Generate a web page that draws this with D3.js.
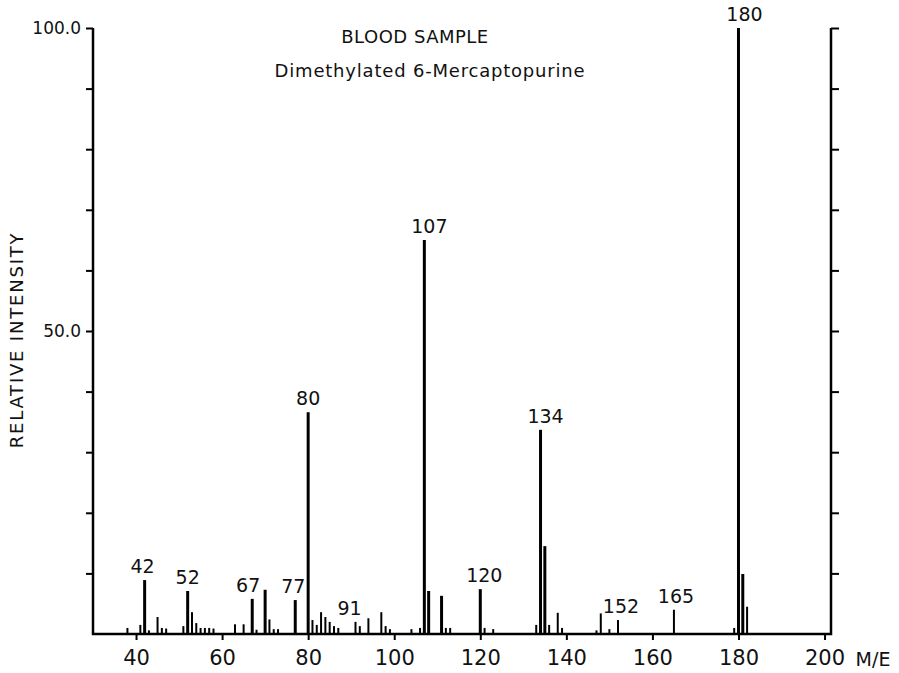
<!DOCTYPE html>
<html>
<head>
<meta charset="utf-8">
<script src="https://cdn.jsdelivr.net/npm/d3@7"></script>
<style>
  html, body { margin: 0; padding: 0; background: #fff; }
  svg { display: block; }
  text { font-family: "DejaVu Sans", sans-serif; fill: #111; }
</style>
</head>
<body>
<svg id="chart"></svg>
<script>
// mass spectrum
const massValues = [
  38, 41, 42, 43, 45, 46, 47, 51, 52, 53, 54, 55, 56, 57, 58,
  63, 65, 67, 68, 70, 71, 72, 73, 77, 80, 81, 82, 83, 84, 85, 86, 87,
  91, 92, 94, 97, 98, 99, 104, 106, 107, 108, 111, 112, 113,
  120, 121, 123, 133, 134, 135, 136, 138, 139,
  147, 148, 150, 152, 165, 179, 180, 181, 182,
];
const intensityValues = [
  1.0, 1.5, 8.9, 0.6, 2.8, 1.0, 0.9, 1.3, 7.1, 3.6, 1.8, 1.0, 1.0, 1.0, 0.9,
  1.6, 1.6, 5.8, 0.7, 7.3, 2.4, 0.8, 0.8, 5.6, 36.6, 2.3, 1.5, 3.6, 2.8, 2.0, 1.3, 1.0,
  2.0, 1.3, 2.6, 3.6, 1.3, 0.8, 0.8, 1.0, 65.0, 7.1, 6.3, 1.0, 1.0,
  7.4, 1.0, 0.8, 1.5, 33.7, 14.5, 1.5, 3.5, 1.0,
  0.6, 3.4, 0.8, 2.3, 4.0, 1.0, 100.0, 9.9, 4.5,
];
const labeledPeaks = [42, 52, 67, 77, 80, 91, 107, 120, 134, 152, 165, 180];
const xTickValues = [40, 60, 80, 100, 120, 140, 160, 180, 200];
const yTickValues = [10, 20, 30, 40, 50, 60, 70, 80, 90, 100];
const yTickLabels = { 50: "50.0", 100: "100.0" };
const title = "BLOOD SAMPLE";
const subtitle = "Dimethylated 6-Mercaptopurine";
const xLabel = "M/E";
const yLabel = "RELATIVE INTENSITY";

// small sideways nudges for peak labels (px)
const labelNudge = { 42: -2, 67: -4, 77: -2, 91: -6, 107: 5, 120: 4, 134: 5, 152: 3, 165: 2, 180: 6 };

const width = 899;
const height = 673;

const svg = d3.select("#chart").attr("width", width).attr("height", height);

const x = d3.scaleLinear().domain([30, 201.5]).range([93, 831]);
const y = d3.scaleLinear().domain([0, 100]).range([634, 28]);

const peaks = massValues.map((m, i) => ({ m, v: intensityValues[i] }));

// peaks
svg
  .selectAll(".peak")
  .data(peaks)
  .join("line")
  .attr("class", "peak")
  .attr("x1", (d) => x(d.m))
  .attr("x2", (d) => x(d.m))
  .attr("y1", y(0))
  .attr("y2", (d) => y(d.v))
  .attr("stroke", "#000")
  .attr("stroke-width", (d) => (d.v > 5 ? 3 : 2));

// frame: left axis, right axis, baseline
const yAxisLeft = svg
  .append("g")
  .attr("transform", `translate(${x(30)},0)`)
  .call(
    d3
      .axisLeft(y)
      .tickValues(yTickValues)
      .tickSize(7)
      .tickFormat((d) => yTickLabels[d] || "")
  );
const yAxisRight = svg
  .append("g")
  .attr("transform", `translate(${x(201.5)},0)`)
  .call(d3.axisRight(y).tickValues(yTickValues).tickSize(8).tickFormat(""));
const xAxis = svg
  .append("g")
  .attr("transform", `translate(0,${y(0)})`)
  .call(d3.axisBottom(x).tickValues(xTickValues).tickSize(6).tickPadding(10));

[yAxisLeft, yAxisRight, xAxis].forEach((g) => {
  g.select(".domain").remove();
  g.selectAll(".tick line").attr("stroke", "#000").attr("stroke-width", 2);
  g.selectAll("text").attr("fill", "#111").attr("font-family", "DejaVu Sans, sans-serif");
});
yAxisLeft.selectAll("text").attr("font-size", 17).attr("dx", -2);
xAxis.selectAll("text").attr("font-size", 21);

svg
  .append("path")
  .attr("d", `M${x(30)},${y(100)} V${y(0)} H${x(201.5)} V${y(100)}`)
  .attr("fill", "none")
  .attr("stroke", "#000")
  .attr("stroke-width", 2.5);

// peak labels
svg
  .selectAll(".peakLabel")
  .data(peaks.filter((d) => labeledPeaks.includes(d.m)))
  .join("text")
  .attr("class", "peakLabel")
  .attr("x", (d) => x(d.m) + (labelNudge[d.m] || 0))
  .attr("y", (d) => y(d.v) - 7)
  .attr("text-anchor", "middle")
  .attr("font-size", 19)
  .text((d) => d.m);

// titles
svg
  .append("text")
  .attr("x", 415)
  .attr("y", 43)
  .attr("text-anchor", "middle")
  .attr("font-size", 18)
  .attr("letter-spacing", 0.5)
  .text(title);

svg
  .append("text")
  .attr("x", 430)
  .attr("y", 77)
  .attr("text-anchor", "middle")
  .attr("font-size", 18)
  .attr("letter-spacing", 0.8)
  .text(subtitle);

svg
  .append("text")
  .attr("x", 873)
  .attr("y", 666)
  .attr("text-anchor", "middle")
  .attr("font-size", 19)
  .text(xLabel);

svg
  .append("text")
  .attr("text-anchor", "middle")
  .attr("font-size", 18)
  .attr("letter-spacing", 1.8)
  .attr("transform", "translate(23,340) rotate(-90)")
  .text(yLabel);
</script>
</body>
</html>
